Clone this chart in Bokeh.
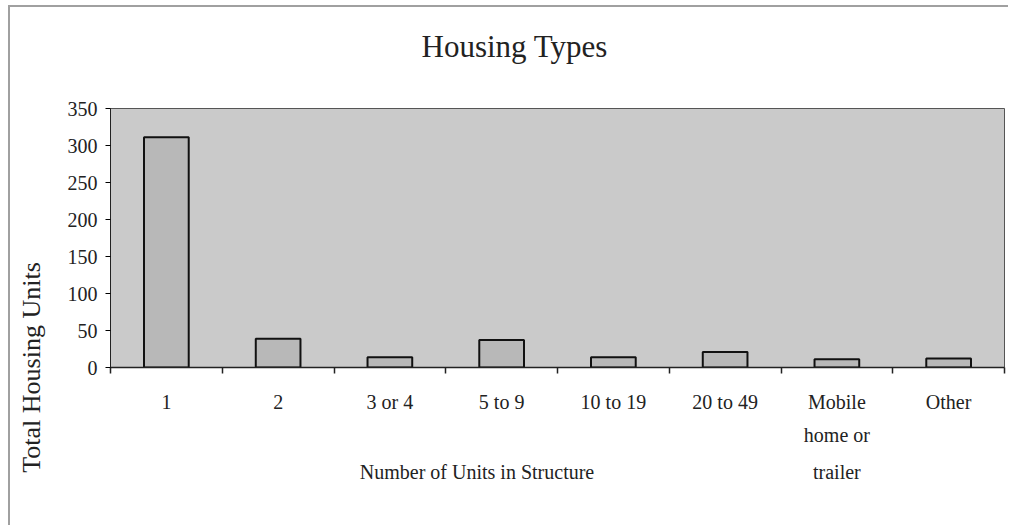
from bokeh.plotting import figure
from bokeh.models import Range1d, LinearAxis, FixedTicker, Title, ColumnDataSource
from bokeh.embed import file_html
from bokeh.resources import INLINE

# ---- data ----
categories = ["1", "2", "3 or 4", "5 to 9", "10 to 19", "20 to 49", "Mobile home or trailer", "Other"]
units = [311, 39, 14, 37, 14, 21, 11, 12]
y_ticks = [0, 50, 100, 150, 200, 250, 300, 350]
label_line1 = ["1", "2", "3 or 4", "5 to 9", "10 to 19", "20 to 49", "Mobile", "Other"]
label_line2 = {"Mobile home or trailer": "home or"}
label_line3 = {"Mobile home or trailer": "trailer"}
title_text = "Housing Types"
x_title = "Number of Units in Structure"
y_title = "Total Housing Units"

# ---- style / layout ----
FONT = "Liberation Serif"
INK = "#222222"
XTITLE_POS = 3.28        # horizontal position of the x-axis title, in category widths

n = len(categories)
centers = [i + 0.5 for i in range(n)]
edges = list(range(n + 1))
pos = {c: x for c, x in zip(categories, centers)}

p = figure(width=1000, height=520,
           x_range=Range1d(0, n), y_range=Range1d(0, 350),
           output_backend="svg", toolbar_location=None,
           x_axis_location=None,
           min_border_left=100, min_border_top=101, min_border_right=6, min_border_bottom=160)
p.styles = {"border-top": "2px solid #a0a0a0", "border-left": "2px solid #a0a0a0",
            "margin-top": "5px", "margin-left": "8px"}

p.background_fill_color = "#cacaca"
p.border_fill_color = "white"
p.outline_line_color = "#555555"
p.outline_line_width = 1
p.xgrid.grid_line_color = None
p.ygrid.grid_line_color = None

src = ColumnDataSource(dict(x=centers, top=units, cat=categories))
p.vbar(x="x", top="top", bottom=0, width=0.4, source=src,
       fill_color="#b8b8b8", line_color="#111111", line_width=2)

# y axis
ya = p.yaxis[0]
ya.ticker = FixedTicker(ticks=y_ticks)
ya.major_tick_out = 5
ya.major_tick_in = 0
ya.minor_tick_line_color = None
ya.axis_line_color = "#222222"
ya.major_label_text_font = FONT
ya.major_label_text_font_size = "20px"
ya.major_label_text_color = INK
ya.major_label_standoff = 8

# y-axis title, carried by a bare axis and aligned to the start (bottom), as in the original
yt = LinearAxis(ticker=FixedTicker(ticks=[]),
                axis_line_color=None, major_tick_line_color=None,
                minor_tick_line_color=None, major_tick_out=0, major_tick_in=0,
                axis_label=y_title, axis_label_standoff=19, axis_label_align="start",
                axis_label_text_font=FONT, axis_label_text_font_size="26px",
                axis_label_text_font_style="normal", axis_label_text_color=INK)
p.add_layout(yt, "left")

# x axis: line, ticks at category boundaries, first line of labels
xa = LinearAxis(ticker=FixedTicker(ticks=centers, minor_ticks=edges),
                major_label_overrides={c: t for c, t in zip(centers, label_line1)},
                axis_line_color="#222222", axis_line_width=1.5,
                major_tick_line_color=None, major_tick_out=0, major_tick_in=0,
                minor_tick_line_color="#222222", minor_tick_line_width=1.5,
                minor_tick_out=6, minor_tick_in=0,
                major_label_standoff=17,
                major_label_text_font=FONT, major_label_text_font_size="20px",
                major_label_text_color=INK)
p.add_layout(xa, "below")


def label_axis(texts, standoff):
    ticks = list(texts.keys())
    ax = LinearAxis(ticker=FixedTicker(ticks=ticks),
                    major_label_overrides=texts,
                    axis_line_color=None, major_tick_line_color=None,
                    minor_tick_line_color=None,
                    major_tick_out=0, major_tick_in=0,
                    major_label_standoff=standoff,
                    major_label_text_font=FONT,
                    major_label_text_font_size="20px",
                    major_label_text_color=INK)
    p.add_layout(ax, "below")
    return ax


label_axis({pos[k]: v for k, v in label_line2.items()}, 8)
row3 = {pos[k]: v for k, v in label_line3.items()}
row3[XTITLE_POS] = x_title
label_axis(row3, 12)

# spacer between plot area and chart title, then the title
p.add_layout(Title(text=" ", standoff=41, text_font_size="1px"), "above")
p.add_layout(Title(text=title_text, align="left", offset=311, standoff=2,
                   text_font=FONT, text_font_size="31px", text_font_style="normal",
                   text_color=INK), "above")

open("out.html", "w").write(file_html(p, INLINE))
